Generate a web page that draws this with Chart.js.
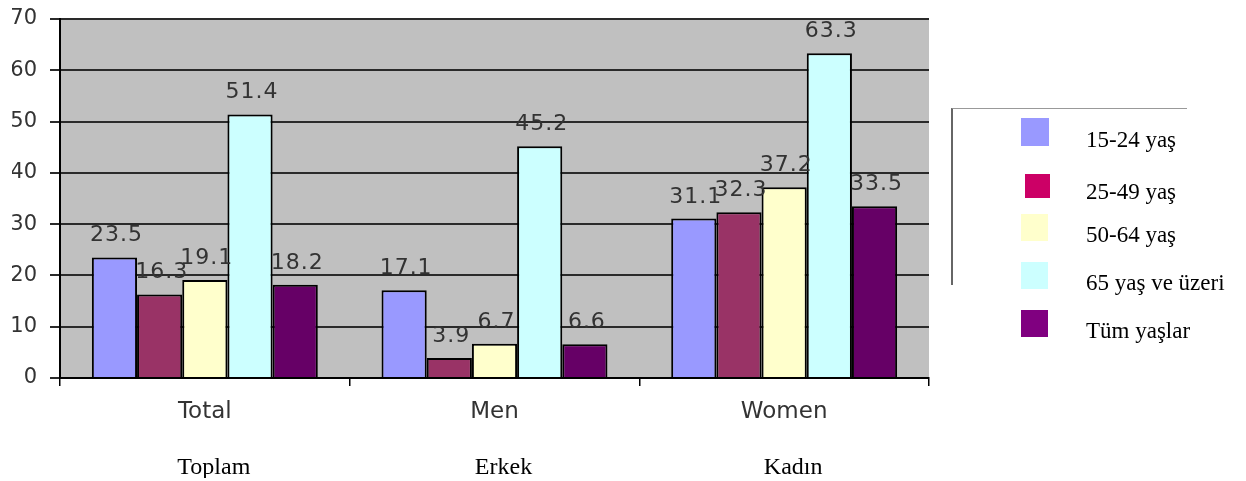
<!DOCTYPE html>
<html>
<head>
<meta charset="utf-8">
<script src="https://cdn.jsdelivr.net/npm/chart.js@4.4.0/dist/chart.umd.min.js"></script>
<style>
  body { margin: 0; background: #fff; }
  #wrap { position: relative; width: 1246px; height: 481px; }
  #chart { display: block; }
  #legend { position: absolute; left: 951px; top: 108px; width: 234px; height: 176px;
    border-left: 2px solid #666; border-top: 1px solid #999; }
  .sw { position: absolute; }
  .lt { position: absolute; font-family: "Liberation Serif", "Times New Roman", serif; font-size: 23px; color: #000; white-space: nowrap; }
</style>
</head>
<body>
<div id="wrap">
  <canvas id="chart" width="1246" height="481"></canvas>
  <div id="legend"></div>
  <div id="items"></div>
</div>
<script>
// categories and values
const categories = ["Total", "Men", "Women"];
const categoriesTr = ["Toplam", "Erkek", "Kadın"];
const seriesNames = ["15-24 yaş", "25-49 yaş", "50-64 yaş", "65 yaş ve üzeri", "Tüm yaşlar"];
const age15to24 = [23.5, 17.1, 31.1];
const age25to49 = [16.3, 3.9, 32.3];
const age50to64 = [19.1, 6.7, 37.2];
const age65plus = [51.4, 45.2, 63.3];
const allAges = [18.2, 6.6, 33.5];
const yMin = 0;
const yMax = 70;
const yStep = 10;

const barColors = ["#9999FF", "#993366", "#FFFFCC", "#CCFFFF", "#660066"];
const legendColors = ["#9999FF", "#CC0066", "#FFFFCC", "#CCFFFF", "#800080"];

// legend drawn by hand (colors differ from the bars in the original)
const items = document.getElementById("items");
const swatchPos = [[1021, 118, 28, 28], [1025, 174, 25, 24], [1021, 214, 27, 27], [1021, 262, 27, 27], [1021, 310, 27, 27]];
seriesNames.forEach((name, i) => {
  const p = swatchPos[i];
  const sw = document.createElement("div");
  sw.className = "sw";
  sw.style.cssText = `left:${p[0]}px;top:${p[1]}px;width:${p[2]}px;height:${p[3]}px;background:${legendColors[i]}`;
  items.appendChild(sw);
  const t = document.createElement("div");
  t.className = "lt";
  t.style.cssText = `left:1086px;top:${p[1] + p[3] - 19}px`;
  t.textContent = name;
  items.appendChild(t);
});

const plotBg = {
  id: "plotBg",
  beforeDraw(chart) {
    const { ctx, chartArea: a } = chart;
    ctx.save();
    ctx.fillStyle = "#C0C0C0";
    ctx.fillRect(a.left, a.top, a.right - a.left, a.bottom - a.top);
    ctx.restore();
  }
};

const valueLabels = {
  id: "valueLabels",
  afterDatasetsDraw(chart) {
    const ctx = chart.ctx;
    ctx.save();
    ctx.font = "22px 'DejaVu Sans'";
    ctx.letterSpacing = "1px";
    ctx.fillStyle = "#333";
    ctx.textAlign = "center";
    ctx.textBaseline = "alphabetic";
    chart.data.datasets.forEach((ds, i) => {
      chart.getDatasetMeta(i).data.forEach((bar, j) => {
        ctx.fillText(ds.data[j].toFixed(1), bar.x + 2, bar.y - 16);
      });
    });
    ctx.restore();
  }
};

const seriesData = [age15to24, age25to49, age50to64, age65plus, allAges];

new Chart(document.getElementById("chart").getContext("2d"), {
  type: "bar",
  data: {
    labels: categories,
    datasets: seriesData.map((d, i) => ({
      label: seriesNames[i],
      data: d,
      backgroundColor: barColors[i],
      borderColor: "#000",
      borderWidth: 2,
      categoryPercentage: 0.78,
      barPercentage: 1
    }))
  },
  options: {
    responsive: false,
    animation: false,
    layout: { padding: { left: 12, right: 317, top: 19, bottom: 3 } },
    plugins: { legend: { display: false }, tooltip: { enabled: false } },
    scales: {
      y: {
        min: yMin,
        max: yMax,
        ticks: { stepSize: yStep, padding: 13, color: "#333", font: { family: "DejaVu Sans", size: 21 } },
        grid: { color: "#2a2a2a", lineWidth: 2, tickLength: 10 },
        border: { color: "#000", width: 2 },
        afterFit: (s) => { s.width = 48; s.paddingTop = 0; s.paddingBottom = 0; }
      },
      x: {
        ticks: { padding: 15, color: "#333", font: { family: "DejaVu Sans", size: 23, lineHeight: 1 } },
        grid: { drawOnChartArea: false, tickLength: 8, color: "#000", lineWidth: 1.5 },
        border: { color: "#000", width: 2 },
        afterFit: (s) => { s.height = 43; }
      },
      x2: {
        type: "category",
        position: "bottom",
        labels: categoriesTr,
        offset: true,
        ticks: { padding: 35, labelOffset: 9, color: "#000", font: { family: "Liberation Serif", size: 24, lineHeight: 1 } },
        grid: { display: false, drawTicks: false },
        border: { display: false },
        afterFit: (s) => { s.height = 57; }
      }
    }
  },
  plugins: [plotBg, valueLabels]
});
</script>
</body>
</html>
